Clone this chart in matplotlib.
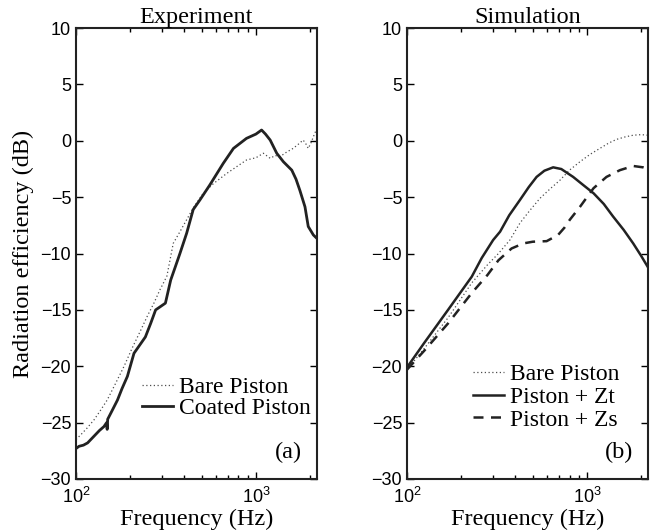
import numpy as np
import matplotlib
matplotlib.use("Agg")
import matplotlib.pyplot as plt
from matplotlib.ticker import LogFormatterMathtext, NullFormatter, FixedLocator

plt.rcParams['mathtext.fontset'] = 'custom'
plt.rcParams['mathtext.rm'] = 'Liberation Sans'
plt.rcParams['mathtext.it'] = 'Liberation Sans:italic'

# ---- Experiment (a) ----
exp_bare_f = [100, 106, 115, 126, 137, 149, 165, 185, 205, 229, 250, 271, 293, 302, 320,
              347, 380, 412, 450, 510, 580, 687, 780, 886, 1000, 1100, 1200, 1280, 1361,
              1480, 1610, 1720, 1830, 1900, 1953, 2020, 2085, 2180]
exp_bare_v = [-26.5, -26.1, -25.5, -24.75, -23.9, -23.0, -21.6, -20.0, -18.4, -16.8, -15.5,
              -14.4, -13.2, -12.8, -12.0, -9.1, -8.0, -7.0, -5.9, -4.65, -3.8, -2.9, -2.3,
              -1.7, -1.5, -1.1, -1.55, -1.3, -1.4, -1.0, -0.67, -0.3, 0.07, -0.3, -0.67,
              -0.2, 0.36, 1.1]

exp_coat_f = [100, 104, 110, 116, 126, 135, 143, 148, 149, 150, 158, 170, 180, 193, 210,
              243, 260, 277, 295, 314, 336, 356, 378, 412, 448, 488, 555, 658, 750, 886,
              1000, 1075, 1130, 1200, 1305, 1420, 1582, 1670, 1755, 1873, 1953, 2085, 2180]
exp_coat_v = [-27.3, -27.1, -27.0, -26.8, -26.2, -25.7, -25.35, -25.0, -25.6, -24.7, -24.0,
              -23.0, -22.0, -20.9, -18.85, -17.4, -16.2, -15.0, -14.7, -14.4, -12.35, -11.2,
              -10.0, -8.2, -6.1, -5.25, -3.9, -2.0, -0.67, 0.22, 0.6, 0.96, 0.6, 0.07, -1.1,
              -1.85, -2.6, -3.4, -4.4, -5.85, -7.6, -8.35, -8.65]

# ---- Simulation (b) ----
sim_bare_f = [100, 125, 169, 229, 280, 322, 373, 424, 480, 548, 620, 707, 800, 915, 1040,
              1180, 1320, 1460, 1630, 1807, 2000, 2180]
sim_bare_v = [-20.3, -18.4, -15.7, -12.6, -11.0, -10.0, -8.8, -7.3, -6.2, -5.1, -4.3, -3.5,
              -2.6, -1.85, -1.2, -0.67, -0.2, 0.13, 0.35, 0.5, 0.55, 0.5]

sim_zt_f = [100, 125, 169, 229, 260, 301, 329, 370, 424, 475, 525, 580, 649, 720, 838,
            950, 1088, 1240, 1395, 1600, 1807, 2000, 2180]
sim_zt_v = [-20.1, -17.9, -15.0, -12.05, -10.4, -8.8, -8.06, -6.6, -5.25, -4.1, -3.2, -2.65,
            -2.35, -2.5, -3.2, -3.9, -4.65, -5.6, -6.7, -7.9, -9.1, -10.2, -11.2]

sim_zs_f = [100, 125, 169, 229, 280, 322, 381, 443, 500, 597, 691, 750, 803, 915, 1000,
            1088, 1284, 1525, 1807, 2050, 2180]
sim_zs_v = [-20.3, -18.6, -16.2, -13.5, -11.9, -10.6, -9.55, -9.1, -8.95, -8.9, -8.35,
            -7.7, -7.0, -5.85, -5.0, -4.2, -3.2, -2.6, -2.23, -2.35, -2.5]

serif = 'Liberation Serif'
sans = 'Liberation Sans'
fs = 17.5

fig = plt.figure(figsize=(6.69, 5.31), dpi=100)
ax1 = fig.add_axes([0.1136, 0.098, 0.360, 0.849])
ax2 = fig.add_axes([0.6084, 0.098, 0.360, 0.849])

dot = dict(linestyle=(0, (1, 2)), lw=0.9, color='0.3')

ax1.plot(exp_bare_f, exp_bare_v, label='Bare Piston', **dot)
ax1.plot(exp_coat_f, exp_coat_v, color='#222222', lw=2.0, label='Coated Piston')

ax2.plot(sim_bare_f, sim_bare_v, label='Bare Piston', **dot)
ax2.plot(sim_zt_f, sim_zt_v, color='#222222', lw=1.8, label='Piston + Zt')
ax2.plot(sim_zs_f, sim_zs_v, color='#222222', lw=1.8, linestyle=(0, (4, 3)),
         label='Piston + Zs')

for ax, title, tag in [(ax1, 'Experiment', '(a)'), (ax2, 'Simulation', '(b)')]:
    ax.set_xscale('log')
    ax.set_xlim(100, 2180)
    ax.set_ylim(-30, 10)
    ax.yaxis.set_major_locator(FixedLocator([-30, -25, -20, -15, -10, -5, 0, 5, 10]))
    ax.xaxis.set_major_formatter(LogFormatterMathtext())
    ax.xaxis.set_minor_formatter(NullFormatter())
    ax.tick_params(which='both', direction='in', top=True, right=True,
                   labelsize=13, width=1.0)
    ax.tick_params(which='major', length=5)
    ax.tick_params(which='minor', length=3)
    ax.tick_params(axis='x', pad=6)
    for lab in ax.get_xticklabels() + ax.get_yticklabels():
        lab.set_family(sans)
    for s in ax.spines.values():
        s.set_linewidth(1.5)
        s.set_color('#222222')
    ax.set_title(title, family=serif, fontsize=fs, pad=4)
    ax.set_xlabel('Frequency (Hz)', family=serif, fontsize=fs, labelpad=1)
    ax.text(0.94, 0.058, tag, transform=ax.transAxes, ha='right', va='center',
            family=serif, fontsize=fs)

ax1.set_ylabel('Radiation efficiency (dB)', family=serif, fontsize=fs, labelpad=5)

leg1 = ax1.legend(loc='lower right', bbox_to_anchor=(0.975, 0.132), frameon=False,
                  prop={'family': serif, 'size': 17}, handlelength=1.3,
                  handletextpad=0.25, labelspacing=0.0, borderpad=0, borderaxespad=0)
leg2 = ax2.legend(loc='lower right', bbox_to_anchor=(0.88, 0.107), frameon=False,
                  prop={'family': serif, 'size': 17}, handlelength=1.3,
                  handletextpad=0.25, labelspacing=0.05, borderpad=0, borderaxespad=0)

fig.savefig('out.png', dpi=100)
